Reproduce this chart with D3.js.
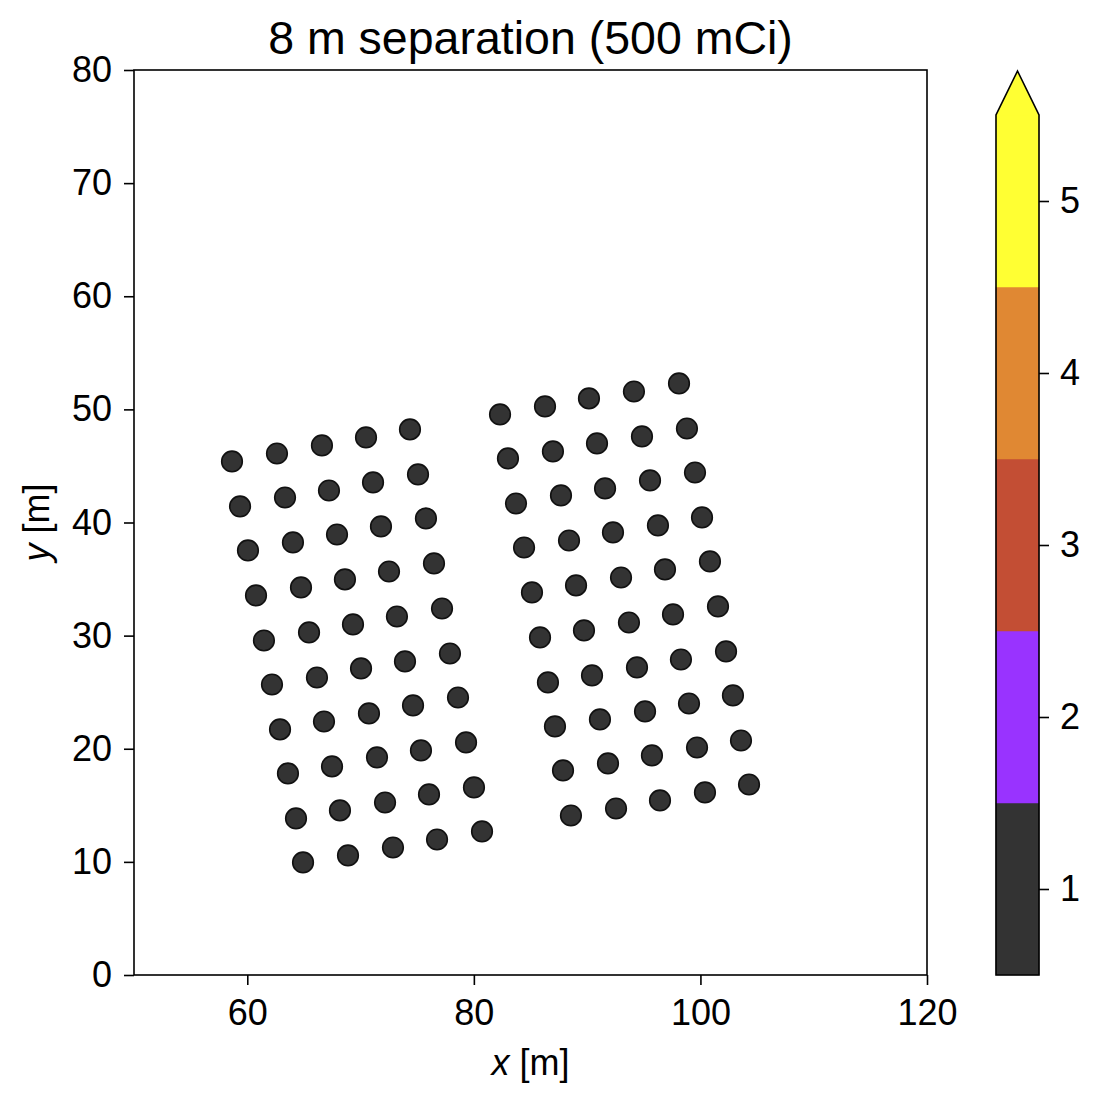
<!DOCTYPE html>
<html>
<head>
<meta charset="utf-8">
<script src="https://cdn.jsdelivr.net/npm/d3@7"></script>
<style>
  body { margin: 0; background: #fff; }
  text { font-family: "Liberation Sans", Arial, Helvetica, sans-serif; fill: #000; }
</style>
</head>
<body>
<svg id="chart" width="1100" height="1103"></svg>
<script>
// ---------------- data ----------------
const titleText = "8 m separation (500 mCi)";
const xTicks = [60, 80, 100, 120];
const yTicks = [0, 10, 20, 30, 40, 50, 60, 70, 80];
const cbTicks = [1, 2, 3, 4, 5];
const cbBounds = [0.5, 1.5, 2.5, 3.5, 4.5, 5.5];
const cbColors = ["#333333", "#9933ff", "#c34e34", "#e08833", "#ffff33"];

const pointX = [
  // left array
  58.65, 62.62, 66.59, 70.48, 74.36,
  59.36, 63.33, 67.21, 71.10, 75.07,
  60.06, 64.03, 67.92, 71.80, 75.77,
  60.77, 64.74, 68.62, 72.51, 76.48,
  61.47, 65.45, 69.33, 73.21, 77.19,
  62.18, 66.15, 70.04, 73.92, 77.89,
  62.89, 66.77, 70.74, 74.63, 78.60,
  63.59, 67.48, 71.45, 75.33, 79.31,
  64.30, 68.18, 72.16, 76.04, 80.01,
  64.92, 68.89, 72.86, 76.75, 80.72,
  // right array
  82.31, 86.28, 90.16, 94.13, 98.11,
  83.01, 86.98, 90.87, 94.84, 98.81,
  83.72, 87.69, 91.58, 95.55, 99.52,
  84.43, 88.40, 92.28, 96.25, 100.14,
  85.13, 89.02, 92.99, 96.87, 100.84,
  85.84, 89.72, 93.69, 97.58, 101.55,
  86.54, 90.43, 94.40, 98.28, 102.26,
  87.16, 91.13, 95.11, 98.99, 102.87,
  87.87, 91.84, 95.72, 99.70, 103.58,
  88.57, 92.55, 96.43, 100.40, 104.29
];
const pointY = [
  45.40, 46.10, 46.81, 47.52, 48.23,
  41.42, 42.21, 42.83, 43.54, 44.25,
  37.53, 38.24, 38.94, 39.65, 40.36,
  33.55, 34.26, 34.97, 35.67, 36.38,
  29.57, 30.28, 30.99, 31.69, 32.40,
  25.68, 26.30, 27.10, 27.72, 28.42,
  21.71, 22.41, 23.12, 23.83, 24.53,
  17.82, 18.44, 19.23, 19.85, 20.56,
  13.84, 14.55, 15.25, 15.96, 16.58,
  9.95, 10.57, 11.27, 11.98, 12.69,
  49.55, 50.26, 50.97, 51.58, 52.29,
  45.66, 46.28, 46.99, 47.61, 48.31,
  41.68, 42.39, 43.01, 43.72, 44.42,
  37.79, 38.41, 39.12, 39.74, 40.45,
  33.82, 34.44, 35.14, 35.85, 36.56,
  29.84, 30.46, 31.16, 31.87, 32.58,
  25.86, 26.48, 27.19, 27.89, 28.60,
  21.97, 22.59, 23.30, 24.00, 24.71,
  18.08, 18.70, 19.41, 20.11, 20.73,
  14.10, 14.72, 15.43, 16.14, 16.84
];
const pointLevel = [
  1,1,1,1,1, 1,1,1,1,1, 1,1,1,1,1, 1,1,1,1,1, 1,1,1,1,1,
  1,1,1,1,1, 1,1,1,1,1, 1,1,1,1,1, 1,1,1,1,1, 1,1,1,1,1,
  1,1,1,1,1, 1,1,1,1,1, 1,1,1,1,1, 1,1,1,1,1, 1,1,1,1,1,
  1,1,1,1,1, 1,1,1,1,1, 1,1,1,1,1, 1,1,1,1,1, 1,1,1,1,1
];

// ---------------- layout ----------------
const svg = d3.select("#chart");
const L = 134, R = 927, T = 70, B = 975;
const x = d3.scaleLinear().domain([50, 120]).range([L, R]);
const y = d3.scaleLinear().domain([0, 80]).range([B, T]);
const color = d3.scaleThreshold().domain(cbBounds.slice(1, -1)).range(cbColors);

const FS = 36;

// points
svg.append("g").selectAll("circle")
  .data(pointX.map((v, i) => ({ x: v, y: pointY[i], v: pointLevel[i] })))
  .join("circle")
  .attr("cx", d => x(d.x))
  .attr("cy", d => y(d.y))
  .attr("r", 10.3)
  .attr("fill", d => color(d.v))
  .attr("stroke", "#111")
  .attr("stroke-width", 1.6);

// axes
const xAxis = svg.append("g").attr("transform", `translate(0,${B})`)
  .call(d3.axisBottom(x).tickValues(xTicks).tickSize(10).tickPadding(14).tickFormat(d3.format("d")));
const yAxis = svg.append("g").attr("transform", `translate(${L},0)`)
  .call(d3.axisLeft(y).tickValues(yTicks).tickSize(10).tickPadding(12).tickFormat(d3.format("d")));
[xAxis, yAxis].forEach(a => {
  a.select(".domain").remove();
  a.selectAll(".tick line").attr("stroke", "#000").attr("stroke-width", 1.6);
  a.selectAll(".tick text").style("font-size", FS + "px").attr("fill", "#000")
    .style("font-family", '"Liberation Sans", Arial, sans-serif');
});

// frame
svg.append("rect").attr("x", L).attr("y", T).attr("width", R - L).attr("height", B - T)
  .attr("fill", "none").attr("stroke", "#000").attr("stroke-width", 1.6);

// title
svg.append("text").attr("x", (L + R) / 2).attr("y", 54).attr("text-anchor", "middle")
  .style("font-size", "46.5px").text(titleText);

// axis labels
const xl = svg.append("text").attr("x", (L + R) / 2).attr("y", 1075).attr("text-anchor", "middle")
  .style("font-size", FS + "px");
xl.append("tspan").style("font-style", "italic").text("x");
xl.append("tspan").text(" [m]");
const yl = svg.append("text").attr("transform", `translate(49,${(T + B) / 2}) rotate(-90)`)
  .attr("text-anchor", "middle").style("font-size", FS + "px");
yl.append("tspan").style("font-style", "italic").text("y");
yl.append("tspan").text(" [m]");

// colorbar
const CL = 996, CR = 1039, CT = 115, CB = 975, tip = 71;
const cy = d3.scaleLinear().domain([cbBounds[0], cbBounds[cbBounds.length - 1]]).range([CB, CT]);
const cb = svg.append("g");
cb.selectAll("rect").data(cbColors).join("rect")
  .attr("x", CL).attr("width", CR - CL)
  .attr("y", (c, i) => cy(cbBounds[i + 1]))
  .attr("height", (c, i) => cy(cbBounds[i]) - cy(cbBounds[i + 1]))
  .attr("fill", c => c)
  .attr("stroke", c => c).attr("stroke-width", 0.5);
cb.append("path")
  .attr("d", `M${CL},${CT + 0.5}L${(CL + CR) / 2},${tip}L${CR},${CT + 0.5}Z`)
  .attr("fill", cbColors[cbColors.length - 1]);
cb.append("path")
  .attr("d", `M${CL},${CB}L${CL},${CT}L${(CL + CR) / 2},${tip}L${CR},${CT}L${CR},${CB}Z`)
  .attr("fill", "none").attr("stroke", "#000").attr("stroke-width", 1.6).attr("stroke-linejoin", "miter");
const cbAxis = svg.append("g").attr("transform", `translate(${CR},0)`)
  .call(d3.axisRight(cy).tickValues(cbTicks).tickSize(10).tickPadding(11).tickFormat(d3.format("d")));
cbAxis.select(".domain").remove();
cbAxis.selectAll(".tick line").attr("stroke", "#000").attr("stroke-width", 1.6);
cbAxis.selectAll(".tick text").style("font-size", FS + "px").attr("fill", "#000")
  .style("font-family", '"Liberation Sans", Arial, sans-serif');
</script>
</body>
</html>
